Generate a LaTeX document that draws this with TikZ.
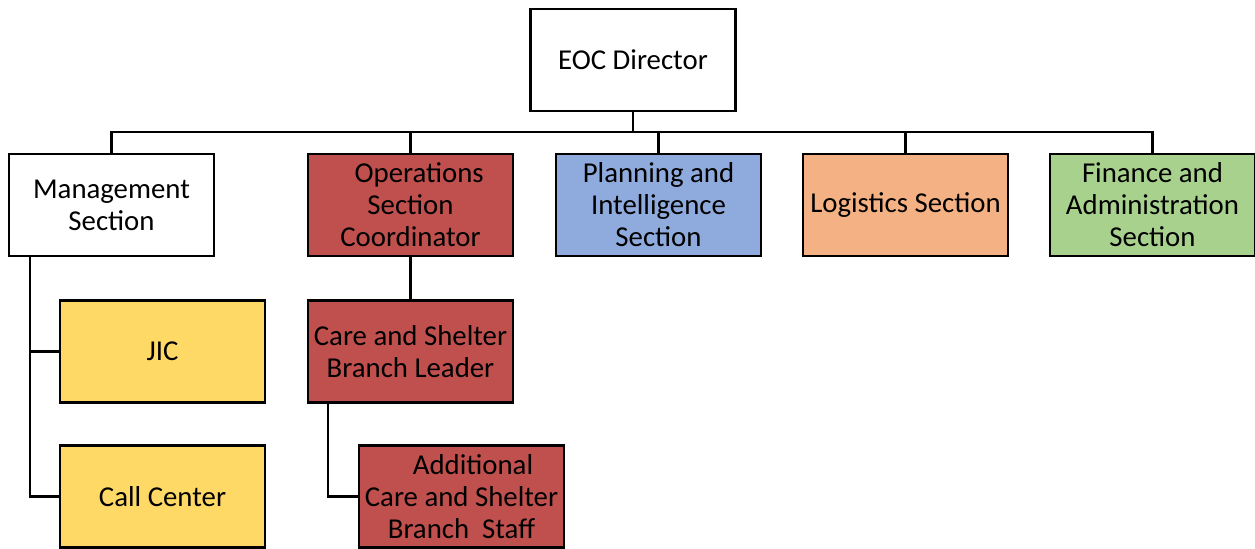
\documentclass[tikz,border=0pt]{standalone}
\usepackage{fontspec}
\setmainfont{Carlito}
\usepackage{tikz}
\usetikzlibrary{positioning}
\definecolor{opsred}{HTML}{C0504D}
\definecolor{planblue}{HTML}{8FAADC}
\definecolor{logorange}{HTML}{F4B183}
\definecolor{fingreen}{HTML}{A9D18E}
\definecolor{mgmtyellow}{HTML}{FFD966}
\begin{document}
\begin{tikzpicture}[x=0.5pt,y=-0.5pt,
	orgbox/.style={rectangle,draw,line width=1.2pt,minimum width=102.5pt,minimum height=51pt,inner sep=1pt,align=center,font=\fontsize{14.4}{16}\selectfont},
	link/.style={line width=1.1pt}]
				\useasboundingbox (0,0) rectangle (1255,549);
				\node [orgbox,fill=white]      (dir)  at (633,60)    {EOC Director};
				\node [orgbox,fill=white]      (mgmt) at (111.5,205) {Management\\Section};
				\node [orgbox,fill=opsred]     (ops)  at (410.5,205) {\hspace*{0.6em}Operations\\Section\\Coordinator};
				\node [orgbox,fill=planblue]   (plan) at (658.5,205) {Planning and\\Intelligence\\Section};
				\node [orgbox,fill=logorange]  (logi) at (905.5,205) {Logistics Section};
				\node [orgbox,fill=fingreen]   (fin)  at (1152.5,205) {Finance and\\Administration\\Section};
				\node [orgbox,fill=mgmtyellow] (jic)  at (162.5,351.5) {JIC};
				\node [orgbox,fill=mgmtyellow] (call) at (162.5,496.5) {Call Center};
				\node [orgbox,fill=opsred]     (csbl) at (410.5,351.5) {Care and Shelter\\Branch Leader};
				\node [orgbox,fill=opsred]     (acss) at (461.5,496.5) {\hspace*{0.8em}Additional\\Care and Shelter\\Branch\ \ Staff};
				
				\coordinate (bus)     at (633,132);
				\coordinate (mtrunk)  at (30,256);
				\coordinate (cstrunk) at (328,403);
				\foreach \n in {mgmt,ops,plan,logi,fin}
				\draw [link] (dir.south) -- (bus) -| (\n.north);
				\foreach \n in {jic,call}
				\draw [link] (mtrunk) |- (\n.west);
				\draw [link] (ops) -- (csbl);
				\draw [link] (cstrunk) |- (acss.west);
			\end{tikzpicture}
\end{document}
